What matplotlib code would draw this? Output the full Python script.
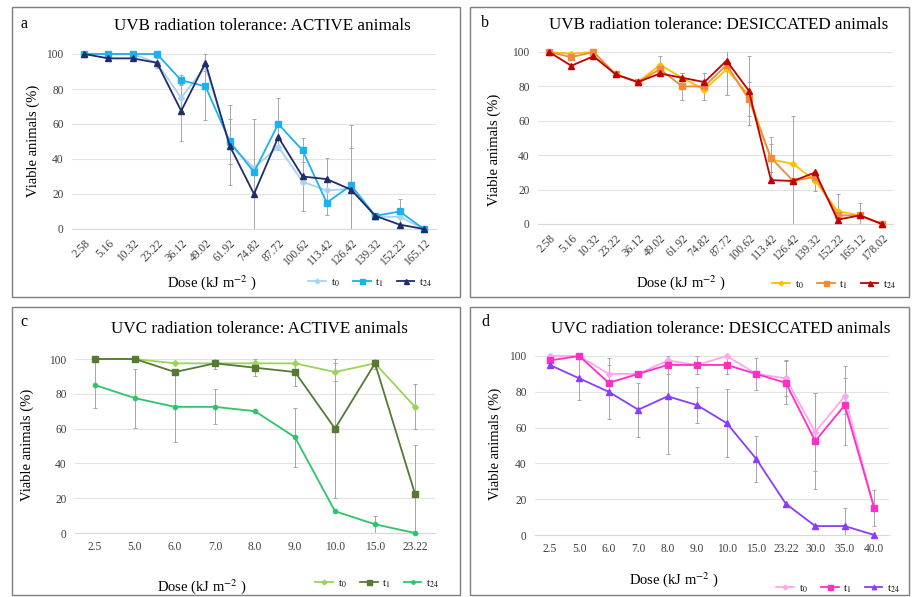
import numpy as np
import matplotlib
matplotlib.use('Agg')
import matplotlib.pyplot as plt
from matplotlib.patches import Rectangle

#----- Data
uvb_a_doses = ['2.58', '5.16', '10.32', '23.22', '36.12', '49.02', '61.92', '74.82',
               '87.72', '100.62', '113.42', '126.42', '139.32', '152.22', '165.12']
a_t0 = [100, 100, 100, 95, 75, 93, 48, 35, 47, 27, 22, 23, 7, 7, 0]
a_t1 = [100, 100, 100, 100, 85, 81.5, 50, 32.5, 60, 45, 15, 25, 7.5, 10, 0]
a_t24 = [100, 97.5, 97.5, 95, 67.5, 95, 47.5, 20, 52.5, 30, 28.5, 22.5, 7.5, 2.5, 0]
a_t0_err = [0, 0, 0, 3, 8, 0, 23, 0, 0, 17, 0, 23, 0, 0, 0]
a_t1_err = [0, 0, 0, 0, 3, 19, 13, 0, 15, 7, 7, 0, 0, 7, 0]
a_t24_err = [0, 0, 0, 0, 17, 5, 0, 43, 0, 0, 12, 37, 0, 0, 0]

uvb_b_doses = ['2.58', '5.16', '10.32', '23.22', '36.12', '49.02', '61.92', '74.82',
               '87.72', '100.62', '113.42', '126.42', '139.32', '152.22', '165.12', '178.02']
b_t0 = [100, 99, 100, 87, 82.5, 92.5, 85, 78, 90, 75, 37.5, 35, 25, 7.5, 5, 0]
b_t1 = [100, 97, 100, 87, 82.5, 90, 80, 80, 92.5, 72.5, 38.5, 25, 27.5, 5, 5, 0]
b_t24 = [100, 92, 97.5, 87, 82.5, 87.5, 85, 82.5, 95, 77.5, 25.5, 25, 30, 2.5, 5, 0]
b_t0_err = [0, 0, 0, 0, 0, 5, 0, 6, 15, 0, 13, 0, 6, 10, 7, 0]
b_t1_err = [0, 0, 0, 0, 0, 3, 8, 0, 0, 10, 8, 0, 0, 0, 0, 0]
b_t24_err = [0, 0, 0, 0, 0, 0, 3, 5, 20, 20, 0, 38, 0, 0, 0, 0]

uvc_c_doses = ['2.5', '5.0', '6.0', '7.0', '8.0', '9.0', '10.0', '15.0', '23.22']
c_t0 = [100, 100, 97.5, 97.5, 97.5, 97.5, 92.5, 97.5, 72.5]
c_t1 = [100, 100, 92.5, 97.5, 95, 92.5, 60, 97.5, 22.5]
c_t24 = [85, 77.5, 72.5, 72.5, 70, 55, 12.5, 5, 0]
c_t0_err = [0, 0, 0, 0, 0, 0, 5, 0, 13]
c_t1_err = [0, 0, 0, 3, 5, 8, 40, 3, 28]
c_t24_err = [13, 17, 20, 10, 0, 17, 0, 5, 0]

uvc_d_doses = ['2.5', '5.0', '6.0', '7.0', '8.0', '9.0', '10.0', '15.0', '23.22',
               '30.0', '35.0', '40.0']
d_t0 = [100, 100, 90, 90, 97.5, 95, 100, 90, 87.5, 57.5, 77.5, 15]
d_t1 = [97.5, 100, 85, 90, 95, 95, 95, 90, 85, 52.5, 72.5, 15]
d_t24 = [95, 87.5, 80, 70, 77.5, 72.5, 62.5, 42.5, 17.5, 5, 5, 0]
d_t0_err = [3, 0, 9, 0, 0, 5, 0, 9, 10, 22, 10, 0]
d_t1_err = [0, 0, 0, 0, 5, 5, 5, 0, 12, 27, 22, 10]
d_t24_err = [0, 12, 15, 15, 32, 10, 19, 13, 0, 0, 10, 0]

series_labels = ['t$_0$', 't$_1$', 't$_{24}$']

#----- Figure layout (pixel based)
W, H = 913, 597
fig = plt.figure(figsize=(W / 100, H / 100), dpi=100)
plt.rcParams['font.family'] = ['Liberation Serif', 'DejaVu Serif']
plt.rcParams['mathtext.fontset'] = 'stix'
serif = 'Liberation Serif'


def fx(px):
    return px / W


def fy(py):
    return 1 - py / H


def box(x0, y0, x1, y1):
    fig.patches.append(Rectangle((fx(x0), fy(y1)), fx(x1 - x0), (y1 - y0) / H,
                                 transform=fig.transFigure, fill=False,
                                 edgecolor='#7f7f7f', lw=1.0))


def panel(rect, doses, series, errs, colors, markers, msizes, letter, title,
          letter_xy, title_xy, ylab_xy, xlab_xy, leg_xy, rotate):
    l, t, r, b = rect
    ax = fig.add_axes([fx(l), fy(b), fx(r - l), (b - t) / H])
    x = np.arange(len(doses))
    for ys, er, c, m, ms, lab in zip(series, errs, colors, markers, msizes, series_labels):
        ax.errorbar(x, ys, yerr=er, fmt='none', ecolor='#a6a6a6', elinewidth=0.7,
                    capsize=1.5, capthick=0.7, zorder=2)
        ax.plot(x, ys, color=c, marker=m, markersize=ms, lw=1.3, label=lab,
                clip_on=False, zorder=3)
    ax.set_xlim(-0.5, len(doses) - 0.5)
    ax.set_ylim(0, 100)
    ax.set_yticks([0, 20, 40, 60, 80, 100])
    ax.set_xticks(x)
    if rotate:
        ax.set_xticklabels(doses, rotation=45, ha='right', rotation_mode='anchor')
    else:
        ax.set_xticklabels(doses)
    ax.tick_params(axis='both', length=0, labelsize=8.3, labelcolor='#404040', pad=6)
    ax.grid(axis='y', color='#e3e3e3', lw=0.8)
    ax.set_axisbelow(True)
    for s in ['top', 'right', 'left']:
        ax.spines[s].set_visible(False)
    ax.spines['bottom'].set_color('#d9d9d9')
    # texts
    fig.text(fx(letter_xy[0]), fy(letter_xy[1]), letter, fontsize=11.5, family=serif,
             ha='left', va='center')
    fig.text(fx(title_xy[0]), fy(title_xy[1]), title, fontsize=12.3, family=serif,
             ha='center', va='center')
    fig.text(fx(ylab_xy[0]), fy(ylab_xy[1]), 'Viable animals (%)', fontsize=10.5,
             family=serif, rotation=90, ha='center', va='center')
    fig.text(fx(xlab_xy[0]), fy(xlab_xy[1]), 'Dose (kJ m$^{-2}$ )', fontsize=10.5,
             family=serif, ha='center', va='center')
    fig.legend(*ax.get_legend_handles_labels(), loc='center',
               bbox_to_anchor=(fx(leg_xy[0]), fy(leg_xy[1])), ncol=3, frameon=False,
               fontsize=8, handlelength=1.6, columnspacing=1.2, handletextpad=0.4,
               markerscale=0.8)
    return ax


box(12, 7, 460, 297)
box(470, 7, 909, 297)
box(12, 307, 460, 595)
box(470, 307, 909, 595)

panel((72, 54, 436, 229), uvb_a_doses, [a_t0, a_t1, a_t24],
      [a_t0_err, a_t1_err, a_t24_err], ['#a9d3f2', '#1ab2ef', '#1f2d6b'],
      ['D', 's', '^'], [3, 4.5, 4.5], 'a', 'UVB radiation tolerance: ACTIVE animals',
      (20, 24), (262, 26), (33, 141), (212, 283), (370, 283), True)

panel((538, 52, 893, 224), uvb_b_doses, [b_t0, b_t1, b_t24],
      [b_t0_err, b_t1_err, b_t24_err], ['#ffc000', '#f08a3c', '#c00000'],
      ['D', 's', '^'], [3, 4.5, 4.5], 'b', 'UVB radiation tolerance: DESICCATED animals',
      (481, 23), (719, 25), (494, 150), (681, 283), (834, 285), True)

panel((75, 359, 435, 533), uvc_c_doses, [c_t0, c_t1, c_t24],
      [c_t0_err, c_t1_err, c_t24_err], ['#9ad45a', '#557a34', '#2fc46a'],
      ['D', 's', 'o'], [3, 4.5, 3], 'c', 'UVC radiation tolerance: ACTIVE animals',
      (20, 322), (259, 329), (27, 445), (202, 587), (377, 584), False)

panel((535, 356, 889, 535), uvc_d_doses, [d_t0, d_t1, d_t24],
      [d_t0_err, d_t1_err, d_t24_err], ['#ffa6ef', '#ff2fc4', '#8a3cff'],
      ['D', 's', '^'], [3, 4.5, 4], 'd', 'UVC radiation tolerance: DESICCATED animals',
      (481, 322), (721, 329), (495, 444), (674, 580), (838, 589), False)

fig.savefig('out.png', dpi=100)
plt.close(fig)
